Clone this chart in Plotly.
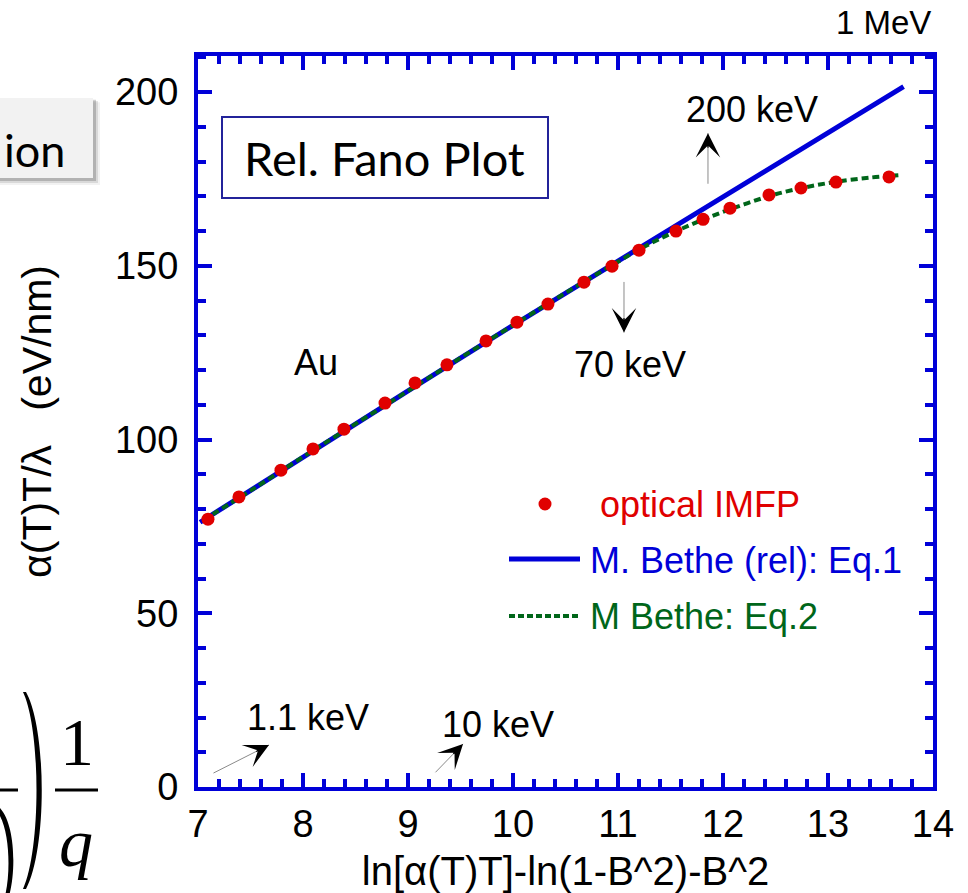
import math
import plotly.graph_objects as go

# ---- data -------------------------------------------------------------
# optical IMFP points (Fano-plot coordinates)
imfp_x = [7.095, 7.390, 7.790, 8.095, 8.390, 8.781, 9.067, 9.371, 9.743, 10.038,
          10.333, 10.676, 10.943, 11.200, 11.552, 11.810, 12.067, 12.438, 12.743,
          13.076, 13.581]
imfp_y = [77.1, 83.5, 91.2, 97.3, 103.0, 110.5, 116.3, 121.5, 128.4, 133.8,
          139.0, 145.3, 149.9, 154.5, 160.0, 163.4, 166.6, 170.4, 172.4,
          174.1, 175.6]

# modified Bethe, relativistic (Eq.1)
bethe_rel_x = [7.02, 8.0, 9.0, 10.0, 11.0, 12.0, 13.0, 13.72]
bethe_rel_y = [76.2, 95.0, 114.0, 132.9, 151.4, 169.8, 188.2, 201.6]

# modified Bethe (Eq.2)
bethe_x = [7.05, 7.5, 8.0, 8.5, 9.0, 9.5, 10.0, 10.5, 11.0, 11.3, 11.6,
           11.9, 12.2, 12.5, 12.8, 13.1, 13.4, 13.67]
bethe_y = [76.8, 85.3, 95.0, 104.5, 114.0, 123.5, 132.9, 142.2, 151.2, 156.3,
           160.6, 164.4, 167.7, 170.6, 172.7, 174.3, 175.4, 176.1]

legend_names = ["optical IMFP", "M. Bethe (rel): Eq.1", "M Bethe: Eq.2"]

# ---- style ------------------------------------------------------------
BLUE = "#0000d8"
RED = "#e00000"
GREEN = "#00661a"
FONT = "Liberation Sans"
W, H = 968, 893
L, R, T, B = 198, 35, 56, 106
XR = [7, 14]
YR = [0, 210.4]
PLOT_W = W - L - R
PLOT_H = H - T - B


def px(xpix):
    return (xpix - L) / PLOT_W


def py(ypix):
    return (H - B - ypix) / PLOT_H


fig = go.Figure()

fig.add_trace(go.Scatter(x=bethe_rel_x, y=bethe_rel_y, mode="lines",
                         line=dict(color=BLUE, width=5), name=legend_names[1],
                         showlegend=False))
fig.add_trace(go.Scatter(x=bethe_x, y=bethe_y, mode="lines",
                         line=dict(color=GREEN, width=4, dash="7px,4px", shape="spline"),
                         name=legend_names[2], showlegend=False))
fig.add_trace(go.Scatter(x=imfp_x, y=imfp_y, mode="markers",
                         marker=dict(color=RED, size=13), name=legend_names[0],
                         showlegend=False))

shapes = []
annotations = []

# ---- legend (drawn in paper space) -------------------------------------
shapes.append(dict(type="circle", xref="paper", yref="paper",
                   x0=px(538.5), x1=px(551.5), y0=py(510.5), y1=py(497.5),
                   fillcolor=RED, line=dict(width=0)))
shapes.append(dict(type="line", xref="paper", yref="paper",
                   x0=px(509), x1=px(580), y0=py(559), y1=py(559),
                   line=dict(color=BLUE, width=5)))
shapes.append(dict(type="line", xref="paper", yref="paper",
                   x0=px(509), x1=px(580), y0=py(616), y1=py(616),
                   line=dict(color=GREEN, width=4, dash="6px,3px")))
for name, col, xl, yl in [(legend_names[0], RED, 598, 504),
                          (legend_names[1], BLUE, 588, 560),
                          (legend_names[2], GREEN, 588, 616)]:
    annotations.append(dict(text=name, xref="paper", yref="paper", x=px(xl), y=py(yl),
                            xanchor="left", yanchor="middle", showarrow=False,
                            font=dict(family=FONT, size=36, color=col)))

# ---- labels inside the plot --------------------------------------------
for txt, xl, yl in [("Au", 7.895, 122.3), ("70 keV", 10.562, 121.5),
                    ("200 keV", 11.629, 194.9), ("1.1 keV", 7.448, 19.9),
                    ("10 keV", 9.305, 18.1)]:
    annotations.append(dict(text=txt, x=xl, y=yl, xanchor="left", yanchor="middle",
                            showarrow=False, font=dict(family=FONT, size=36, color="black")))

annotations.append(dict(text="1 MeV", xref="paper", yref="paper", x=px(933), y=py(23),
                        xanchor="right", yanchor="middle", showarrow=False,
                        font=dict(family=FONT, size=33, color="black")))

# energy markers: thin grey shaft with a black head
arrows = [((7.133, 3.8), (7.676, 12.1)),
          ((9.248, 3.8), (9.524, 12.4)),
          ((11.057, 145.8), (11.057, 130.8)),
          ((11.857, 173.2), (11.857, 188.2))]
sx = PLOT_W / (XR[1] - XR[0])
sy = PLOT_H / (YR[1] - YR[0])
for (tx, ty), (hx, hy) in arrows:
    annotations.append(dict(text="", x=hx, y=hy, ax=tx, ay=ty, axref="x", ayref="y",
                            showarrow=True, arrowhead=0, arrowwidth=1,
                            arrowcolor="#8a8a8a"))
    # short segment ending at the tip carries the arrowhead
    dxp = (hx - tx) * sx
    dyp = -(hy - ty) * sy
    n = math.hypot(dxp, dyp)
    annotations.append(dict(text="", x=hx, y=hy, ax=-dxp / n * 16, ay=-dyp / n * 16,
                            showarrow=True, arrowhead=3, arrowwidth=1.2, arrowsize=3.4,
                            arrowcolor="black"))

# ---- "Rel. Fano Plot" box ------------------------------------------------
shapes.append(dict(type="rect", xref="paper", yref="paper",
                   x0=px(222), x1=px(548), y0=py(198), y1=py(117),
                   fillcolor="white", line=dict(color="#23239a", width=2)))
annotations.append(dict(text="Rel. Fano Plot", xref="paper", yref="paper",
                        x=px(384), y=py(158), xanchor="center", yanchor="middle",
                        showarrow=False, font=dict(family="Lato", size=47, color="black")))

# ---- slide fragments at the left edge ----------------------------------
# grey caption box with a soft shadow
for off, alpha in [(7, 0.05), (5, 0.10), (3, 0.18)]:
    shapes.append(dict(type="rect", xref="paper", yref="paper", layer="below",
                       x0=px(-10), x1=px(93 + off), y0=py(178 + off), y1=py(98 + off * 0.6),
                       fillcolor=f"rgba(0,0,0,{alpha})", line=dict(width=0)))
shapes.append(dict(type="rect", xref="paper", yref="paper", layer="below",
                   x0=px(-10), x1=px(93), y0=py(178), y1=py(98),
                   fillcolor="#f2f2f2", line=dict(width=0)))
annotations.append(dict(text="ion", xref="paper", yref="paper", x=px(2), y=py(150),
                        xanchor="left", yanchor="middle", showarrow=False,
                        font=dict(family="Lato", size=45, color="black")))


def path(points_cmds):
    out = []
    for cmd, pts in points_cmds:
        coords = " ".join(f"{px(a):.5f},{py(b):.5f}" for a, b in pts)
        out.append(f"{cmd}{coords}")
    return " ".join(out) + " Z"


# large closing parenthesis of the formula
shapes.append(dict(type="path", xref="paper", yref="paper",
                   path=path([("M", [(26, 692)]),
                              ("C", [(47, 730), (47, 850), (26, 889)]),
                              ("L", [(23, 889)]),
                              ("C", [(41, 850), (41, 730), (23, 692)])]),
                   fillcolor="black", line=dict(width=0)))
# small parenthesis partly cut off
shapes.append(dict(type="path", xref="paper", yref="paper",
                   path=path([("M", [(-2, 806)]),
                              ("C", [(16, 822), (16, 872), (9, 896)]),
                              ("L", [(5, 896)]),
                              ("C", [(11, 872), (10, 826), (-4, 810)])]),
                   fillcolor="black", line=dict(width=0)))
# fraction bars
for x0, x1 in [(-5, 18), (55, 98)]:
    shapes.append(dict(type="line", xref="paper", yref="paper",
                       x0=px(x0), x1=px(x1), y0=py(790), y1=py(790),
                       line=dict(color="black", width=3)))
annotations.append(dict(text="1", xref="paper", yref="paper", x=px(77), y=py(742),
                        xanchor="center", yanchor="middle", showarrow=False,
                        font=dict(family="Liberation Serif", size=68, color="black")))
annotations.append(dict(text="<i>q</i>", xref="paper", yref="paper", x=px(76), y=py(843),
                        xanchor="center", yanchor="middle", showarrow=False,
                        font=dict(family="Liberation Serif", size=68, color="black")))

axis_common = dict(showline=True, linewidth=4, linecolor=BLUE, mirror="ticks",
                   ticks="inside", ticklen=14, tickwidth=3.5, tickcolor=BLUE,
                   showgrid=False, zeroline=False,
                   tickfont=dict(family=FONT, size=38, color="black"))

fig.update_layout(
    width=W, height=H,
    margin=dict(l=L, r=R, t=T, b=B, autoexpand=False),
    paper_bgcolor="white", plot_bgcolor="white",
    showlegend=False,
    xaxis=dict(range=XR, tick0=7, dtick=1,
               minor=dict(dtick=0.2, ticks="inside", ticklen=8, tickwidth=3.5,
                          tickcolor=BLUE, showgrid=False),
               title=dict(text="ln[α(T)T]-ln(1-B^2)-B^2", standoff=16,
                          font=dict(family=FONT, size=40, color="black")),
               **axis_common),
    yaxis=dict(range=YR, tick0=0, dtick=50, ticklabelstandoff=8,
               minor=dict(dtick=10, ticks="inside", ticklen=8, tickwidth=3.5,
                          tickcolor=BLUE, showgrid=False),
               title=dict(text="α(T)T/λ\u00a0\u00a0\u00a0(eV/nm)", standoff=52,
                          font=dict(family=FONT, size=41, color="black")),
               **axis_common),
    shapes=shapes,
    annotations=annotations,
)

fig.write_html("out.html")
